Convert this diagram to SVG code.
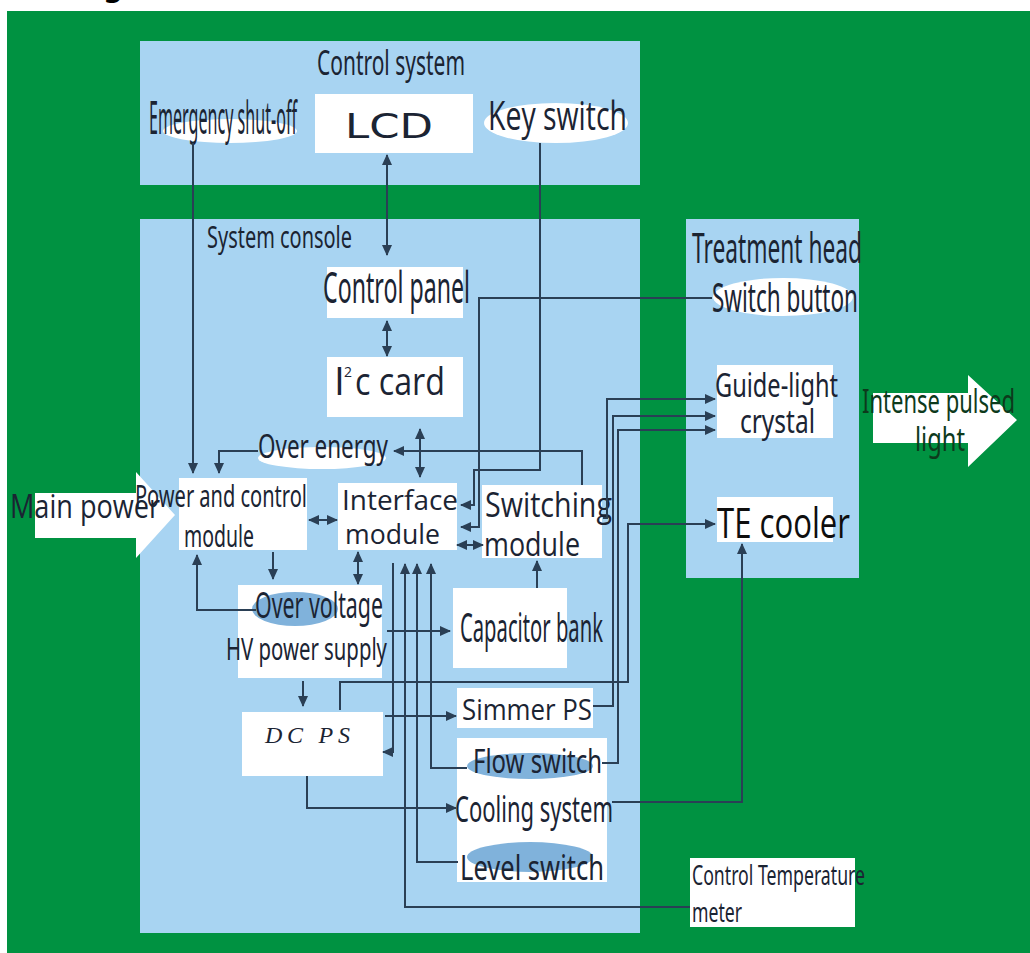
<svg xmlns="http://www.w3.org/2000/svg" width="1030" height="953" viewBox="0 0 1030 953">
<defs>
<marker id="ah" markerUnits="userSpaceOnUse" markerWidth="11" markerHeight="10" refX="10" refY="5" orient="auto-start-reverse">
<path d="M0,0 L11,5 L0,10 Z" fill="#2A3F55"/>
</marker>
<style>
.panel{fill:#A8D4F2}
.box{fill:#FFFFFF}
.t{font-family:"Noto Sans","DejaVu Sans",sans-serif;fill:#1B2433}
.w{font-family:"Open Sans","DejaVu Sans",sans-serif;fill:#1B2433}
.c{fill:none;stroke:#2A3F55;stroke-width:2}
.e{marker-end:url(#ah)}
.b{marker-start:url(#ah);marker-end:url(#ah)}
.we{fill:#FFFFFF}
.be{fill:#80B2DB}
</style>
</defs>
<rect x="0" y="0" width="1030" height="953" fill="#FFFFFF"/>
<text x="103" y="-3" font-family="DejaVu Sans" font-weight="bold" font-size="28" fill="#000">g</text>
<rect x="7" y="11" width="1023" height="942" fill="#009241"/>

<g id="control-system">
<rect class="panel" x="140" y="41" width="500" height="144"/>
<text class="t" x="317" y="75" font-size="35" textLength="148" lengthAdjust="spacingAndGlyphs">Control system</text>
</g>
<g id="system-console">
<rect class="panel" x="140" y="219" width="500" height="714"/>
<text class="t" x="207" y="248" font-size="30" textLength="145" lengthAdjust="spacingAndGlyphs">System console</text>
</g>
<g id="treatment-head">
<rect class="panel" x="686" y="219" width="173" height="359"/>
<text class="t" x="692" y="263" font-size="42" textLength="170" lengthAdjust="spacingAndGlyphs">Treatment head</text>
</g>

<g id="emergency">
<ellipse class="we" cx="230" cy="131" rx="67" ry="12"/>
<text class="t" x="149" y="134" font-size="46" textLength="148" lengthAdjust="spacingAndGlyphs">Emergency shut-off</text>
</g>
<g id="lcd">
<rect class="box" x="315" y="94" width="158" height="59"/>
<text x="345" y="138" font-family="DejaVu Sans" font-size="34" fill="#1B2433" textLength="88" lengthAdjust="spacingAndGlyphs">LCD</text>
</g>
<g id="key-switch">
<ellipse class="we" cx="556" cy="123" rx="72" ry="20"/>
<text class="w" x="488" y="130" font-size="40" textLength="139" lengthAdjust="spacingAndGlyphs">Key switch</text>
</g>

<g id="control-panel">
<rect class="box" x="327" y="267" width="136" height="51"/>
<text class="t" x="323" y="303" font-size="43" textLength="147" lengthAdjust="spacingAndGlyphs">Control panel</text>
</g>
<g id="i2c-card">
<rect class="box" x="327" y="357" width="136" height="60"/>
<text class="w" x="334" y="395" font-size="39">I</text>
<text class="w" x="344" y="377" font-size="14">2</text>
<text class="w" x="355" y="395" font-size="39" textLength="90" lengthAdjust="spacingAndGlyphs">c card</text>
</g>
<g id="over-energy">
<ellipse class="we" cx="322" cy="458" rx="64" ry="11"/>
<text class="t" x="258" y="458" font-size="32" textLength="130" lengthAdjust="spacingAndGlyphs">Over energy</text>
</g>
<g id="main-power">
<polygon points="35,493 136,493 136,472 175,515 136,558 136,538 35,538" fill="#FFFFFF"/>
<text class="w" x="10" y="518" font-size="32" textLength="150" lengthAdjust="spacingAndGlyphs">Main power</text>
</g>
<g id="power-control">
<rect class="box" x="179" y="478" width="128" height="72"/>
<text class="t" x="135" y="507" font-size="31" textLength="172" lengthAdjust="spacingAndGlyphs">Power and control</text>
<text class="t" x="184" y="547" font-size="31" textLength="70" lengthAdjust="spacingAndGlyphs">module</text>
</g>
<g id="interface">
<rect class="box" x="338" y="483" width="119" height="67"/>
<text class="w" x="342" y="510" font-size="28" textLength="116" lengthAdjust="spacingAndGlyphs">Interface</text>
<text class="w" x="345" y="544" font-size="28" textLength="95" lengthAdjust="spacingAndGlyphs">module</text>
</g>
<g id="switching">
<rect class="box" x="482" y="485" width="120" height="73"/>
<text class="w" x="485" y="517" font-size="34" textLength="127" lengthAdjust="spacingAndGlyphs">Switching</text>
<text class="w" x="484" y="556" font-size="32" textLength="96" lengthAdjust="spacingAndGlyphs">module</text>
</g>
<g id="hv-supply">
<rect class="box" x="238" y="585" width="144" height="93"/>
<ellipse class="be" cx="295" cy="609" rx="43" ry="17"/>
<text class="t" x="255" y="618" font-size="37" textLength="128" lengthAdjust="spacingAndGlyphs">Over voltage</text>
<text class="t" x="226" y="660" font-size="31" textLength="161" lengthAdjust="spacingAndGlyphs">HV power supply</text>
</g>
<g id="capacitor">
<rect class="box" x="453" y="588" width="114" height="80"/>
<text class="t" x="460" y="642" font-size="40" textLength="143" lengthAdjust="spacingAndGlyphs">Capacitor bank</text>
</g>
<g id="dc-ps">
<rect class="box" x="242" y="712" width="141" height="64"/>
<text x="265" y="743" font-family="Liberation Serif" font-style="italic" font-size="24" fill="#1B2433" textLength="85" lengthAdjust="spacing">DC PS</text>
</g>
<g id="simmer">
<rect class="box" x="457" y="688" width="136" height="40"/>
<text class="w" x="462" y="720" font-size="30" textLength="130" lengthAdjust="spacingAndGlyphs">Simmer PS</text>
</g>
<g id="cooling">
<rect class="box" x="457" y="738" width="150" height="144"/>
<ellipse class="be" cx="530" cy="766" rx="63" ry="13"/>
<ellipse class="be" cx="530" cy="857" rx="63" ry="15"/>
<text class="t" x="473" y="773" font-size="32" textLength="129" lengthAdjust="spacingAndGlyphs">Flow switch</text>
<text class="t" x="455" y="822" font-size="37" textLength="158" lengthAdjust="spacingAndGlyphs">Cooling system</text>
<text class="t" x="460" y="880" font-size="34" textLength="144" lengthAdjust="spacingAndGlyphs">Level switch</text>
</g>
<g id="temp-meter">
<rect class="box" x="690" y="858" width="165" height="69"/>
<text class="t" x="692" y="885" font-size="28" textLength="173" lengthAdjust="spacingAndGlyphs">Control Temperature</text>
<text class="t" x="692" y="922" font-size="28" textLength="50" lengthAdjust="spacingAndGlyphs">meter</text>
</g>
<g id="switch-button">
<ellipse class="we" cx="783" cy="297" rx="70" ry="19"/>
<text class="t" x="712" y="312" font-size="40" textLength="146" lengthAdjust="spacingAndGlyphs">Switch button</text>
</g>
<g id="guide-light">
<rect class="box" x="717" y="365" width="116" height="73"/>
<text class="t" x="715" y="397" font-size="33" textLength="123" lengthAdjust="spacingAndGlyphs">Guide-light</text>
<text class="t" x="740" y="433" font-size="33" textLength="75" lengthAdjust="spacingAndGlyphs">crystal</text>
</g>
<g id="te-cooler">
<rect class="box" x="717" y="497" width="116" height="45"/>
<text class="w" x="717" y="538" font-size="42" style="fill:#0E0E0E" textLength="133" lengthAdjust="spacingAndGlyphs">TE cooler</text>
</g>
<g id="ipl">
<polygon points="873,393 968,393 968,375 1017,420 968,467 968,443 873,443" fill="#FFFFFF"/>
<text class="t" x="862" y="413" font-size="32" style="fill:#0D3A1C" textLength="153" lengthAdjust="spacingAndGlyphs">Intense pulsed</text>
<text class="t" x="915" y="451" font-size="32" style="fill:#0D3A1C" textLength="50" lengthAdjust="spacingAndGlyphs">light</text>
</g>

<g id="connectors">
<path class="c e" d="M193,143 V473"/>
<path class="c e" d="M258,451 H219 V473"/>
<path class="c b" d="M387,155 V255"/>
<path class="c b" d="M387,321 V356"/>
<path class="c b" d="M420,429 V477"/>
<path class="c e" d="M582,485 V451 H394"/>
<path class="c e" d="M540,143 V470 H474 V505 H461"/>
<path class="c e" d="M712,298 H479 V527 H461"/>
<path class="c b" d="M309,520 H337"/>
<path class="c b" d="M457,545 H483"/>
<path class="c e" d="M273,552 V579"/>
<path class="c b" d="M358,552 V584"/>
<path class="c e" d="M256,610 H197 V555"/>
<path class="c e" d="M387,631 H450"/>
<path class="c e" d="M537,588 V561"/>
<path class="c e" d="M303,681 V706"/>
<path class="c e" d="M340,710 V682 H628 V524 H715"/>
<path class="c e" d="M393,563 V752 H383"/>
<path class="c e" d="M385,716 H456"/>
<path class="c e" d="M307,776 V808 H456"/>
<path class="c e" d="M612,802 H742 V544"/>
<path class="c e" d="M603,518 H607 V399 H715"/>
<path class="c e" d="M593,706 H613 V416 H715"/>
<path class="c e" d="M602,763 H618 V430 H715"/>
<path class="c e" d="M467,768 H431 V564"/>
<path class="c e" d="M458,862 H417 V564"/>
<path class="c e" d="M690,907 H405 V564"/>
</g>
</svg>
